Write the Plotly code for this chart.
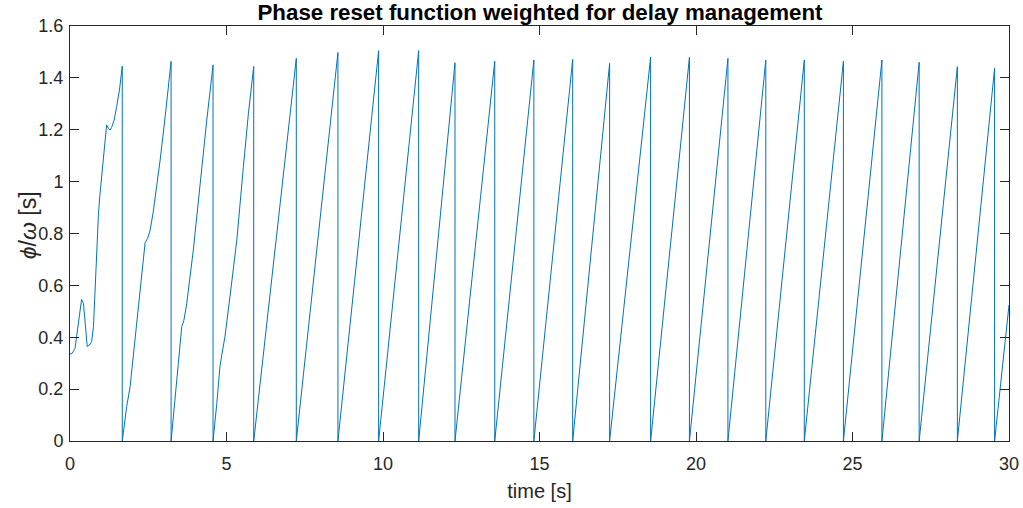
import plotly.graph_objects as go

# start-up transient, before the first phase reset
t_start = [0.00, 0.07, 0.16, 0.23, 0.32, 0.37, 0.43, 0.50, 0.55, 0.62, 0.69, 0.75,
           0.80, 0.85, 0.91, 0.96, 1.04, 1.12, 1.17, 1.23, 1.28, 1.33, 1.41, 1.49, 1.58]
v_start = [0.335, 0.338, 0.357, 0.415, 0.505, 0.546, 0.531, 0.428, 0.364, 0.370, 0.383, 0.441,
           0.595, 0.762, 0.878, 0.955, 1.057, 1.135, 1.218, 1.205, 1.199, 1.209, 1.237, 1.289, 1.353]

# instants at which the phase is reset, and the value reached just before each reset
reset_times = [1.67, 3.23, 4.57, 5.87, 7.23, 8.56, 9.86, 11.14, 12.30, 13.57, 14.82, 16.06,
               17.24, 18.55, 19.79, 21.02, 22.23, 23.46, 24.71, 25.94, 27.13, 28.35, 29.54]
peak_values = [1.445, 1.464, 1.450, 1.444, 1.475, 1.498, 1.505, 1.505, 1.458, 1.464, 1.469, 1.471,
               1.456, 1.480, 1.479, 1.475, 1.469, 1.469, 1.464, 1.469, 1.460, 1.443, 1.437]

# intermediate samples on the first three ramps (they still carry the transient shoulders)
ramp1_t = [1.81, 1.92, 2.02, 2.18, 2.32, 2.40, 2.48, 2.56, 2.66, 2.77, 2.88, 3.04, 3.14]
ramp1_v = [0.132, 0.209, 0.325, 0.505, 0.672, 0.765, 0.781, 0.813, 0.884, 0.980, 1.083, 1.250, 1.366]
ramp2_t = [3.35, 3.46, 3.57, 3.64, 3.73, 3.94, 4.15, 4.37]
ramp2_v = [0.158, 0.325, 0.441, 0.466, 0.531, 0.736, 0.993, 1.237]
ramp3_t = [4.69, 4.79, 4.85, 4.95, 5.11, 5.33, 5.54, 5.70]
ramp3_v = [0.145, 0.286, 0.332, 0.402, 0.556, 0.775, 1.057, 1.263]

t_end = 30.0
v_end = 0.524

x_ticks = [0, 5, 10, 15, 20, 25, 30]
y_ticks = [0, 0.2, 0.4, 0.6, 0.8, 1.0, 1.2, 1.4, 1.6]

# assemble the sawtooth: vertical drop at every reset, then the next ramp
ramps = {0: (ramp1_t, ramp1_v), 1: (ramp2_t, ramp2_v), 2: (ramp3_t, ramp3_v)}
t = list(t_start)
v = list(v_start)
for i, (tr, pk) in enumerate(zip(reset_times, peak_values)):
    t += [tr, tr]
    v += [pk, 0.0]
    if i in ramps:
        t += ramps[i][0]
        v += ramps[i][1]
t.append(t_end)
v.append(v_end)

axis_col = "#262626"
font_family = "Liberation Sans, Arial, Helvetica, sans-serif"

fig = go.Figure()
fig.add_trace(go.Scatter(x=t, y=v, mode="lines",
                         line=dict(color="#0072BD", width=1), showlegend=False))

common = dict(showline=True, linecolor=axis_col, linewidth=1, mirror="allticks",
              ticks="inside", ticklen=9, tickwidth=1, tickcolor=axis_col,
              showgrid=False, zeroline=False, automargin=False,
              tickfont=dict(family=font_family, size=18, color=axis_col))

fig.update_layout(
    width=1023, height=508,
    margin=dict(l=70, r=14, t=26, b=67),
    paper_bgcolor="white", plot_bgcolor="white",
    title=dict(text="<b>Phase reset function weighted for delay management</b>",
               x=540 / 1023, xanchor="center", y=0.977, yanchor="middle",
               font=dict(family=font_family, size=22.3, color="black")),
    xaxis=dict(range=[0, 30], tickvals=x_ticks, ticklabelstandoff=6,
               title=dict(text="time [s]", standoff=11,
                          font=dict(family=font_family, size=20, color=axis_col)),
               **common),
    yaxis=dict(range=[0, 1.6], tickvals=y_ticks, ticklabelstandoff=2, **common),
)

# vertical axis label placed beside the tick labels
fig.add_annotation(text="<i>ϕ</i>/<i>ω</i> [s]", textangle=-90, showarrow=False,
                   xref="paper", yref="paper", x=-0.0447, y=0.52,
                   xanchor="center", yanchor="middle",
                   font=dict(family=font_family, size=23, color=axis_col))

fig.write_html("out.html")
